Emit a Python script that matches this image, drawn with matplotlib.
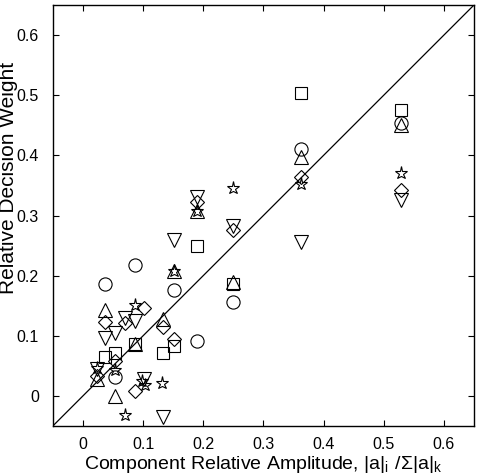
import matplotlib
matplotlib.use("Agg")
import matplotlib.pyplot as plt

plt.rcParams['font.family'] = ['Liberation Sans', 'DejaVu Sans']
plt.rcParams['mathtext.fontset'] = 'custom'
plt.rcParams['mathtext.rm'] = 'Liberation Sans'

# data (x = component relative amplitude, y = relative decision weight)
circle_x = [0.037, 0.054, 0.087, 0.152, 0.189, 0.250, 0.362, 0.528]
circle_y = [0.186, 0.032, 0.218, 0.176, 0.092, 0.157, 0.411, 0.453]

square_x = [0.037, 0.054, 0.087, 0.133, 0.152, 0.189, 0.250, 0.362, 0.528]
square_y = [0.065, 0.072, 0.086, 0.072, 0.083, 0.250, 0.186, 0.503, 0.476]

triup_x = [0.023, 0.037, 0.054, 0.087, 0.133, 0.152, 0.189, 0.250, 0.362, 0.528]
triup_y = [0.029, 0.143, 0.000, 0.087, 0.128, 0.208, 0.308, 0.190, 0.397, 0.450]

tridown_x = [0.023, 0.037, 0.054, 0.070, 0.087, 0.101, 0.133, 0.152, 0.189, 0.250, 0.362, 0.528]
tridown_y = [0.045, 0.097, 0.104, 0.130, 0.125, 0.028, -0.035, 0.260, 0.330, 0.283, 0.256, 0.325]

diamond_x = [0.023, 0.037, 0.054, 0.070, 0.087, 0.101, 0.133, 0.152, 0.189, 0.250, 0.362, 0.528]
diamond_y = [0.033, 0.123, 0.058, 0.122, 0.008, 0.146, 0.115, 0.095, 0.322, 0.276, 0.364, 0.343]

star_x = [0.023, 0.054, 0.070, 0.087, 0.099, 0.104, 0.131, 0.152, 0.189, 0.250, 0.362, 0.528]
star_y = [0.047, 0.043, -0.031, 0.151, 0.025, 0.018, 0.021, 0.208, 0.307, 0.346, 0.353, 0.371]

ticks = [0, 0.1, 0.2, 0.3, 0.4, 0.5, 0.6]
tick_labels = ['0', '0.1', '0.2', '0.3', '0.4', '0.5', '0.6']
lims = [-0.05, 0.65]

fig = plt.figure(figsize=(4.8, 4.76), dpi=100)
ax = fig.add_axes([0.110, 0.105, 0.8775, 0.8845])

ax.plot(lims, lims, color='black', lw=0.9, zorder=1)

common = dict(linestyle='none', markerfacecolor='none', markeredgecolor='black',
              markeredgewidth=0.8, zorder=2)
ax.plot(circle_x, circle_y, marker='o', markersize=9.5, **common)
ax.plot(square_x, square_y, marker='s', markersize=8, **common)
ax.plot(triup_x, triup_y, marker='^', markersize=10, **common)
ax.plot(tridown_x, tridown_y, marker='v', markersize=10, **common)
ax.plot(diamond_x, diamond_y, marker='D', markersize=7.5, **common)
ax.plot(star_x, star_y, marker='*', markersize=9.5, **common)

ax.set_xlim(lims)
ax.set_ylim(lims)
ax.set_xticks(ticks)
ax.set_xticklabels(tick_labels)
ax.set_yticks(ticks)
ax.set_yticklabels(tick_labels)
ax.tick_params(direction='in', top=True, right=True, length=4, width=0.8,
               labelsize=11.5)
ax.tick_params(axis='x', pad=8)
ax.tick_params(axis='y', pad=10)
for s in ax.spines.values():
    s.set_linewidth(1.0)

ax.set_xlabel(r'Component Relative Amplitude, $\mathregular{|a|_i\ /\Sigma|a|_k}$',
              fontsize=14, labelpad=1)
ax.set_ylabel('Relative Decision Weight', fontsize=15)
ax.yaxis.set_label_coords(-0.083, 0.59)

fig.savefig('out.png', dpi=100)
